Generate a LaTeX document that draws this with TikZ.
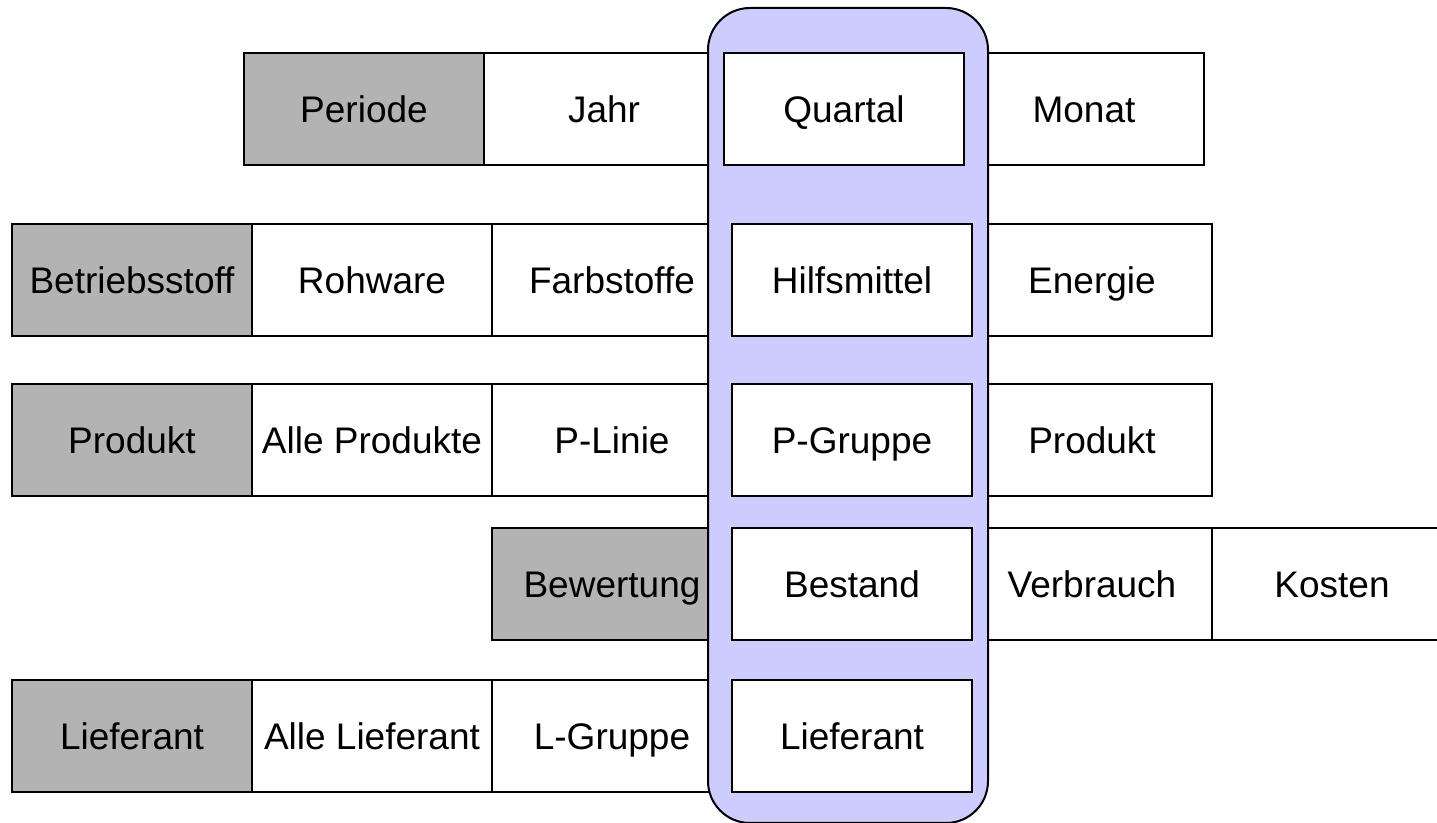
\documentclass[tikz,border=0pt]{standalone}
\usepackage{fontspec}
\setmainfont{Liberation Sans}
\definecolor{headgrey}{HTML}{B3B3B3}
\definecolor{bandblue}{HTML}{CCCCFF}
\begin{document}
\begin{tikzpicture}[x=0.5pt,y=-0.5pt,
  cell/.style={draw=black, line width=1pt, fill=white, minimum width=120pt,
    minimum height=56pt, inner sep=0pt, text=black,
    text height=13.2pt, text depth=0pt,
    font=\fontsize{18.5pt}{22pt}\selectfont},
  head/.style={cell, fill=headgrey},
  band/.style={draw=black, line width=1pt, fill=bandblue, rounded corners=21pt,
    minimum width=140pt, minimum height=407.5pt, inner sep=0pt}]
\useasboundingbox (0,0) rectangle (1437,823);
\clip (0,0) rectangle (1437,823);

% dimension rows behind the selection band
\node[head] (periode)   at (364,109.5) {Periode};
\node[cell] (jahr)      at (604,109.5) {Jahr};
\node[cell] (monat)     at (1084,109.5) {Monat};

\node[head] (betrieb)   at (132,280) {Betriebsstoff};
\node[cell] (rohware)   at (372,280) {Rohware};
\node[cell] (farb)      at (612,280) {Farbstoffe};
\node[cell] (energie)   at (1092,280) {Energie};

\node[head] (produkt)   at (132,440) {Produkt};
\node[cell] (alleprod)  at (372,440) {Alle Produkte};
\node[cell] (plinie)    at (612,440) {P-Linie};
\node[cell] (prodlevel) at (1092,440) {Produkt};

\node[head] (bewertung) at (612,584) {Bewertung};
\node[cell] (verbrauch) at (1092,584) {Verbrauch};
\node[cell] (kosten)    at (1332,584) {Kosten};

\node[head] (lieferant) at (132,736) {Lieferant};
\node[cell] (allelief)  at (372,736) {Alle Lieferant};
\node[cell] (lgruppe)   at (612,736) {L-Gruppe};

% selection band
\node[band] (band) at (848,415.5) {};

% selected levels on top of the band
\node[cell] (quartal)   at (844,109.5) {Quartal};
\node[cell] (hilfs)     at (852,280) {Hilfsmittel};
\node[cell] (pgruppe)   at (852,440) {P-Gruppe};
\node[cell] (bestand)   at (852,584) {Bestand};
\node[cell] (lieflevel) at (852,736) {Lieferant};
\end{tikzpicture}
\end{document}
